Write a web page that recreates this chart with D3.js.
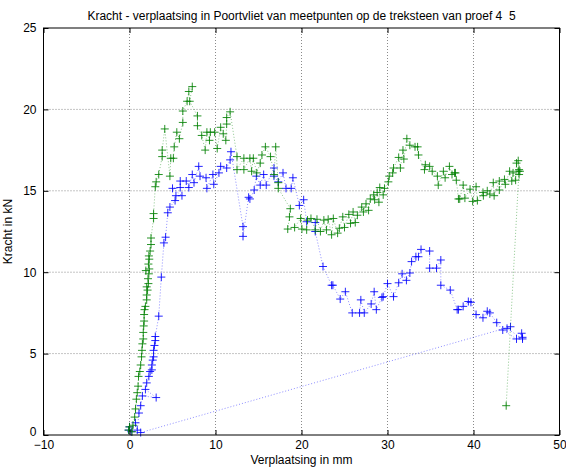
<!DOCTYPE html>
<html>
<head>
<meta charset="utf-8">
<script src="https://d3js.org/d3.v7.min.js"></script>
<style>
  body { margin: 0; background: #fff; }
  text { font-family: Arial, "Liberation Sans", Helvetica, sans-serif; }
</style>
</head>
<body>
<script>
// meetpunt 4 (groen) - verplaatsing in mm, kracht in kN
var greenX = [-0.1, 0.0, 0.3, 0.4, 0.6, 0.7, 0.8, 0.9, 1.0, 1.05, 1.2, 1.3, 1.4, 1.45, 1.5, 1.6, 1.6, 1.65, 1.7, 1.7, 1.75, 1.85, 2.0, 2.0, 2.1, 2.0, 2.2, 2.15, 2.25, 1.9, 2.3, 2.2, 2.3, 2.25, 2.4, 2.5, 2.5, 2.8, 2.8, 3.0, 3.1,
  3.4, 3.8, 3.8, 4.1, 4.7, 4.8, 5.1, 5.2, 5.5, 5.8, 6.2, 6.2, 6.7, 6.9, 7.3, 7.0, 7.9, 7.9, 8.4, 8.8, 9.0, 9.3, 9.4, 9.9, 10.2, 10.6, 10.9, 11.2, 11.3, 11.3, 11.7,
  12.5, 12.5, 13.3, 13.3, 14.0, 14.2, 14.4, 14.8, 15.2, 15.4, 15.8, 16.4, 16.8, 17.0, 17.3, 17.3, 18.7, 18.6, 18.4, 19.2, 19.9, 20.05, 20.6, 20.7, 21.1, 21.6, 21.8, 22.2,
  22.6, 22.9, 23.1, 23.5, 23.7, 24.2, 24.4, 24.8, 25.0, 25.5, 25.7, 26.0, 26.25, 26.5, 27.0, 27.2, 27.5, 27.8, 28.0, 28.4, 28.5, 28.8, 29.0, 29.1, 29.5, 29.65,
  30.1, 30.2, 30.6, 30.7, 31.3, 31.5, 31.8, 31.9, 32.25, 32.6, 33.2, 33.5, 33.6, 34.3, 34.4, 34.9, 35.2, 35.8, 35.9, 36.5, 36.7, 37.2, 37.5, 37.8, 37.9, 38.0,
  38.25, 38.4, 38.8, 39.0, 39.6, 39.9, 40.3, 40.45, 41.1, 41.15, 41.6, 41.9, 42.3, 42.4, 43.0, 43.0, 43.6, 43.7, 44.2, 44.45, 44.6, 44.9, 45.0, 45.2, 45.2, 45.3, 45.4, 45.3, 43.8];
var greenY = [0.3, 0.5, 0.2, 0.6, 1.1, 1.6, 2.2, 2.6, 3.0, 3.6, 3.9, 4.3, 4.8, 5.2, 5.6, 5.9, 6.3, 6.7, 7.0, 7.4, 7.7, 7.9, 8.3, 8.6, 8.9, 9.1, 9.3, 9.6, 9.9, 10.1, 10.2, 10.5, 10.8, 11.0, 11.3, 11.7, 12.1, 13.3, 13.6, 15.25, 15.55,
  16.0, 17.1, 17.5, 18.8, 15.9, 17.0, 17.0, 17.7, 18.6, 18.2, 19.2, 19.9, 20.5, 21.1, 21.4, 20.5, 19.6, 19.0, 18.4, 17.5, 18.6, 18.1, 18.6, 18.6, 17.6, 18.9, 18.5, 18.1, 19.1, 19.5, 19.85,
  17.1, 16.3, 17.0, 16.3, 17.0, 16.2, 17.0, 16.1, 16.7, 17.2, 17.7, 17.1, 16.0, 17.7, 15.5, 15.15, 13.9, 13.4, 12.65, 12.75, 13.3, 12.65, 12.6, 13.2, 13.3, 12.6, 13.25, 12.5,
  13.2, 12.6, 13.25, 12.3, 13.3, 12.4, 12.7, 13.4, 12.75, 13.55, 13.0, 13.7, 13.05, 13.5, 14.0, 13.7, 14.2, 13.8, 14.5, 14.75, 14.45, 14.9, 14.3, 15.2, 14.75, 15.15,
  15.55, 15.9, 16.1, 16.4, 17.05, 16.4, 17.5, 16.95, 18.2, 17.8, 17.7, 17.7, 17.2, 16.3, 16.6, 16.5, 16.2, 15.9, 15.35, 16.2, 15.8, 16.5, 16.0, 16.1, 16.1, 15.65,
  14.5, 14.5, 15.35, 14.55, 15.1, 14.35, 15.25, 14.4, 14.9, 14.7, 15.0, 14.8, 15.5, 14.7, 15.6, 15.05, 15.7, 15.4, 16.2, 15.6, 16.1, 15.65, 16.7, 16.85, 16.2, 16.0, 16.2, 16.3, 1.8];

// meetpunt 5 (blauw)
var blueX = [-0.1, 0.0, 0.2, 0.7, 0.9, 1.1, 1.3, 1.5, 3.1, 1.85, 2.0, 2.25, 2.4, 2.6, 2.6, 2.7, 2.8, 2.8, 2.9, 3.0, 3.0, 3.4, 3.7, 4.0, 4.2, 4.45, 4.7, 5.3, 5.4, 6.1, 5.0, 5.9, 5.9, 6.6, 6.9,
  7.3, 7.5, 8.05, 8.2, 8.9, 9.0, 9.7, 9.8, 10.4, 10.6, 11.3, 11.7, 11.8, 13.2, 13.2, 13.85, 14.0, 14.5, 14.75, 15.2, 15.6, 15.9, 16.8, 16.8, 17.3, 17.85, 18.2, 18.8, 19.0,
  19.75, 20.25, 20.6, 21.6, 21.6, 22.5, 23.5, 23.65, 24.5, 25.1, 25.9, 26.75, 26.9, 27.3, 28.1, 28.45, 28.7, 29.35, 29.5, 30.0, 30.7, 31.3, 31.7, 32.2, 32.6, 32.8,
  33.3, 33.6, 33.9, 34.9, 34.9, 35.7, 36.2, 36.2, 37.3, 38.1, 38.25, 38.8, 39.4, 39.7, 40.3, 41.1, 41.6, 41.9, 42.7, 43.4, 45.0, 45.6, 45.7, 45.7, 43.9, 44.3, 1.3];
var blueY = [0.3, 0.5, 0.2, 0.75, 0.3, 1.35, 1.8, 2.4, 2.3, 2.8, 3.2, 3.6, 3.9, 4.0, 4.3, 4.6, 4.8, 5.2, 5.5, 5.8, 6.05, 7.3, 9.7, 11.8, 12.15, 13.65, 14.0, 14.4, 14.7, 14.7, 15.15, 15.2, 15.6, 15.6, 15.2,
  16.0, 15.5, 16.5, 15.9, 15.8, 15.15, 16.0, 15.4, 16.1, 16.5, 16.4, 16.9, 17.4, 12.8, 12.2, 14.6, 14.5, 15.05, 15.9, 15.35, 16.0, 15.35, 16.4, 15.9, 15.55, 16.1, 15.15, 15.15, 15.8,
  14.1, 14.45, 13.1, 13.05, 12.5, 10.35, 9.2, 9.2, 8.35, 8.8, 7.5, 7.5, 8.3, 7.5, 8.05, 8.8, 7.7, 8.45, 8.5, 9.3, 8.5, 9.35, 9.9, 9.5, 9.95, 10.65,
  10.95, 10.95, 11.4, 11.3, 10.25, 10.25, 10.75, 9.2, 8.9, 7.7, 7.7, 7.9, 8.2, 8.15, 7.4, 7.2, 7.6, 7.5, 6.9, 6.45, 5.9, 6.25, 6.0, 5.9, 6.55, 6.65, 0.15];

var xTicks = [-10, 0, 10, 20, 30, 40, 50];
var yTicks = [0, 5, 10, 15, 20, 25];

var titleText = "Kracht - verplaatsing in Poortvliet van meetpunten op de treksteen van proef 4  5";

var W = 566, H = 468;
var margin = {top: 28, right: 6.5, bottom: 33, left: 43.5};
var width = W - margin.left - margin.right,
    height = H - margin.top - margin.bottom;

var svg = d3.select("body").append("svg")
  .attr("width", W)
  .attr("height", H);

var g = svg.append("g")
  .attr("transform", "translate(" + margin.left + "," + margin.top + ")");

var x = d3.scaleLinear().domain([-10, 50]).range([0, width]);
var y = d3.scaleLinear().domain([0, 25]).range([height, 0]);

// grid (dotted, like matlab)
g.selectAll(".vgrid")
  .data(xTicks.slice(1, -1))
  .enter().append("line")
  .attr("x1", d => x(d)).attr("x2", d => x(d))
  .attr("y1", 0).attr("y2", height)
  .attr("stroke", "#8a8a8a").attr("stroke-width", 1)
  .attr("stroke-dasharray", "1,2");

g.selectAll(".hgrid")
  .data(yTicks.slice(1, -1))
  .enter().append("line")
  .attr("x1", 0).attr("x2", width)
  .attr("y1", d => y(d)).attr("y2", d => y(d))
  .attr("stroke", "#8a8a8a").attr("stroke-width", 1)
  .attr("stroke-dasharray", "1,2");

function drawSeries(xs, ys, color) {
  var pts = xs.map((v, i) => [v, ys[i]]);
  var line = d3.line().x(d => x(d[0])).y(d => y(d[1]));
  g.append("path")
    .datum(pts)
    .attr("d", line)
    .attr("fill", "none")
    .attr("stroke", color)
    .attr("stroke-opacity", 0.45)
    .attr("stroke-width", 1)
    .attr("stroke-dasharray", "1,2");

  var s = 4;
  g.append("g").selectAll("path")
    .data(pts)
    .enter().append("path")
    .attr("d", d => {
      var cx = x(d[0]), cy = y(d[1]);
      return "M" + (cx - s) + "," + cy + "H" + (cx + s) + "M" + cx + "," + (cy - s) + "V" + (cy + s);
    })
    .attr("stroke", color)
    .attr("stroke-opacity", 0.85)
    .attr("stroke-width", 1)
    .attr("fill", "none");
}

drawSeries(blueX, blueY, "#0000ff");
drawSeries(greenX, greenY, "#008000");

// axes, ticks pointing inward
var xAxis = g.append("g")
  .attr("transform", "translate(0," + height + ")")
  .call(d3.axisBottom(x).tickValues(xTicks).tickSize(-5).tickPadding(5));
var xAxisTop = g.append("g")
  .call(d3.axisTop(x).tickValues(xTicks).tickSize(-5).tickFormat(""));
var yAxis = g.append("g")
  .call(d3.axisLeft(y).tickValues(yTicks).tickSize(-5).tickPadding(7));
var yAxisRight = g.append("g")
  .attr("transform", "translate(" + width + ",0)")
  .call(d3.axisRight(y).tickValues(yTicks).tickSize(-5).tickFormat(""));

[xAxis, xAxisTop, yAxis, yAxisRight].forEach(a => {
  a.select(".domain").remove();
  a.selectAll("text").attr("font-size", 12).attr("fill", "#000")
    .style("font-family", "Arial, 'Liberation Sans', sans-serif");
  a.selectAll("line").attr("stroke", "#000");
});
// keep the "0" of the y axis clear of the "-10" below it
yAxis.selectAll("text").filter(d => d === 0).attr("dy", "0.05em");

g.append("rect")
  .attr("width", width).attr("height", height)
  .attr("fill", "none").attr("stroke", "#000").attr("stroke-width", 1);

svg.append("text")
  .attr("x", margin.left + width / 2)
  .attr("y", 20)
  .attr("text-anchor", "middle")
  .attr("font-size", 12)
  .style("white-space", "pre")
  .text(titleText);

svg.append("text")
  .attr("x", margin.left + width / 2)
  .attr("y", 464)
  .attr("text-anchor", "middle")
  .attr("font-size", 12)
  .text("Verplaatsing in mm");

svg.append("text")
  .attr("transform", "translate(12," + (margin.top + height / 2) + ") rotate(-90)")
  .attr("text-anchor", "middle")
  .attr("font-size", 12)
  .text("Kracht in kN");
</script>
</body>
</html>
